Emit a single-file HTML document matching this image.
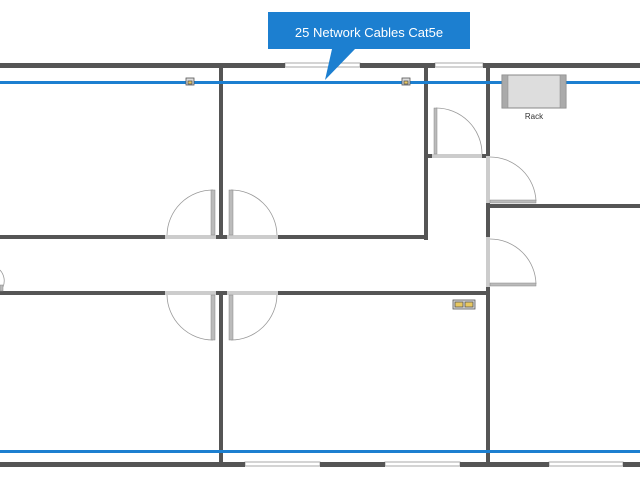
<!DOCTYPE html>
<html><head><meta charset="utf-8"><style>html,body{margin:0;padding:0;background:#fff;width:640px;height:480px;overflow:hidden}</style></head>
<body>
<svg width="640" height="480" viewBox="0 0 640 480" xmlns="http://www.w3.org/2000/svg">
<!-- windows top -->
<g fill="#fff" stroke="#aaa" stroke-width="1">
<rect x="285" y="63" width="75" height="4"/>
<rect x="435" y="63" width="48" height="4"/>
<rect x="245" y="462" width="75" height="4"/>
<rect x="385" y="462" width="75" height="4"/>
<rect x="549" y="462" width="74" height="4"/>
</g>
<!-- walls -->
<g fill="#555">
<rect x="0" y="63" width="285" height="5"/>
<rect x="360" y="63" width="75" height="5"/>
<rect x="483" y="63" width="157" height="5"/>
<rect x="0" y="462" width="245" height="5"/>
<rect x="320" y="462" width="65" height="5"/>
<rect x="460" y="462" width="89" height="5"/>
<rect x="623" y="462" width="17" height="5"/>
<!-- verticals -->
<rect x="219" y="63" width="4" height="174"/>
<rect x="424" y="63" width="4" height="177"/>
<rect x="486" y="63" width="4" height="93"/>
<rect x="486" y="203" width="4" height="34"/>
<rect x="486" y="287" width="4" height="180"/>
<rect x="219" y="291" width="4" height="174"/>
<!-- corridor -->
<rect x="0" y="235" width="165" height="4"/>
<rect x="216" y="235" width="11" height="4"/>
<rect x="278" y="235" width="150" height="4"/>
<rect x="0" y="291" width="165" height="4"/>
<rect x="216" y="291" width="11" height="4"/>
<rect x="278" y="291" width="212" height="4"/>
<rect x="426" y="154" width="6" height="4"/>
<rect x="482" y="154" width="6" height="4"/>
<rect x="488" y="204" width="152" height="4"/>
</g>
<!-- door openings gray -->
<g fill="#ccc">
<rect x="165" y="235" width="51" height="4"/>
<rect x="227" y="235" width="51" height="4"/>
<rect x="165" y="291" width="51" height="4"/>
<rect x="227" y="291" width="51" height="4"/>
<rect x="432" y="154" width="50" height="4"/>
<rect x="486" y="156" width="4" height="47"/>
<rect x="486" y="237" width="4" height="50"/>
</g>
<!-- door leaves -->
<g fill="#bbb" stroke="#888" stroke-width="0.5">
<rect x="211" y="190" width="4" height="45"/>
<rect x="229" y="190" width="4" height="45"/>
<rect x="211" y="295" width="4" height="45"/>
<rect x="229" y="295" width="4" height="45"/>
<rect x="434" y="108" width="3" height="46"/>
<rect x="490" y="200" width="46" height="3"/>
<rect x="490" y="283" width="46" height="3"/>
<rect x="0" y="285" width="3" height="6"/>
</g>
<g fill="none" stroke="#999" stroke-width="0.8">
<path d="M213 190 A46 46 0 0 0 167 235"/>
<path d="M231 190 A46 46 0 0 1 277 235"/>
<path d="M213 340 A46 46 0 0 1 167 295"/>
<path d="M231 340 A46 46 0 0 0 277 295"/>
<path d="M436 108 A46 46 0 0 1 482 154"/>
<path d="M490 157 A46 46 0 0 1 536 201"/>
<path d="M490 239 A46 46 0 0 1 536 284"/>
<path d="M0 270 A16 16 0 0 1 3 287"/>
</g>
<!-- blue cables -->
<rect x="0" y="81" width="502" height="3" fill="#1c7fd0"/>
<rect x="566" y="81" width="74" height="3" fill="#1c7fd0"/>
<rect x="0" y="450" width="640" height="3" fill="#1c7fd0"/>
<!-- rack -->
<rect x="502" y="75" width="64" height="33" fill="#ddd" stroke="#888" stroke-width="1"/>
<rect x="502" y="75" width="6" height="33" fill="#aaa" stroke="#888" stroke-width="0.5"/>
<rect x="560" y="75" width="6" height="33" fill="#aaa" stroke="#888" stroke-width="0.5"/>
<text x="534" y="119" font-family="Liberation Sans, sans-serif" font-size="8" fill="#333" text-anchor="middle">Rack</text>
<!-- outlets -->
<g stroke="#555" stroke-width="0.8">
<rect x="186" y="78" width="8" height="7" fill="#ddd"/><rect x="188" y="81" width="4" height="3" fill="#e8c860"/>
<rect x="402" y="78" width="8" height="7" fill="#ddd"/><rect x="404" y="81" width="4" height="3" fill="#e8c860"/>
<rect x="453" y="300" width="22" height="9" fill="#ddd"/>
<rect x="455" y="302" width="8" height="5" fill="#e8c860"/><rect x="465" y="302" width="8" height="5" fill="#e8c860"/>
</g>
<!-- callout -->
<path d="M268 12 H470 V49 H355 L325 80 L332 49 H268 Z" fill="#1c7fd0"/>
<text x="369" y="37" font-family="Liberation Sans, sans-serif" font-size="13" fill="#fff" text-anchor="middle">25 Network Cables Cat5e</text>
</svg>
</body></html>
